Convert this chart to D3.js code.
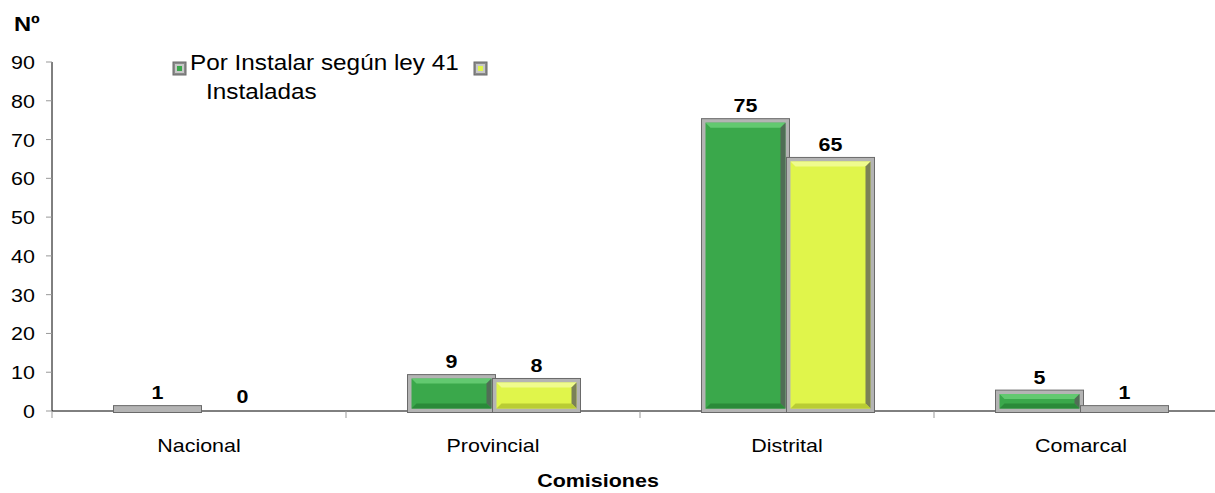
<!DOCTYPE html>
<html>
<head>
<meta charset="utf-8">
<script src="https://cdn.jsdelivr.net/npm/d3@7"></script>
<style>
  body { margin: 0; background: #fff; }
  svg { font-family: "Liberation Sans", Arial, sans-serif; }
</style>
</head>
<body>
<div id="chart"></div>
<script>
// Chart data
const categories = ['Nacional', 'Provincial', 'Distrital', 'Comarcal'];
const seriesNames = ['Por Instalar según ley 41', 'Instaladas'];
const porInstalar = [1, 9, 75, 5];
const instaladas = [0, 8, 65, 1];
const yTicks = [0, 10, 20, 30, 40, 50, 60, 70, 80, 90];

const width = 1215, height = 493;
const stretch = 1.13; // the original picture is a bit wider than tall
const colors = [
  { main: '#3aa84b', light: '#62c970', dark: '#2a8a39' },
  { main: '#e0f54b', light: '#effb8e', dark: '#b9cc34' }
];

const svg = d3.select('#chart')
  .append('svg')
  .attr('width', width)
  .attr('height', height);

// text helper, stretched horizontally like the source image
function addText(tx, ty, str, opts = {}) {
  return svg.append('text')
    .attr('transform', `translate(${tx},${ty}) scale(${stretch},1)`)
    .attr('text-anchor', opts.anchor || 'start')
    .style('font-size', (opts.size || 19) + 'px')
    .style('font-weight', opts.bold ? 'bold' : 'normal')
    .text(str);
}

const x = d3.scaleBand().domain(categories).range([52, 1228]);
const xs = d3.scaleBand().domain(seriesNames).range([63, 233]);
const y = d3.scaleLinear().domain([0, 90]).range([411, 62]);

// y axis
svg.append('line')
  .attr('x1', 52).attr('x2', 52)
  .attr('y1', y(90)).attr('y2', y(0))
  .attr('stroke', '#000');
yTicks.forEach(d => {
  svg.append('line')
    .attr('x1', 46).attr('x2', 52)
    .attr('y1', y(d)).attr('y2', y(d))
    .attr('stroke', '#999');
  addText(35, y(d) + 7, d, { anchor: 'end' });
});

// x axis
svg.append('line')
  .attr('x1', 52).attr('x2', width)
  .attr('y1', y(0)).attr('y2', y(0))
  .attr('stroke', '#000');
svg.selectAll('.xtick').data(categories).enter().append('line')
  .attr('x1', d => x(d)).attr('x2', d => x(d))
  .attr('y1', y(0)).attr('y2', y(0) + 7)
  .attr('stroke', '#999');
categories.forEach(c => addText(x(c) + x.bandwidth() / 2, 452, c, { anchor: 'middle' }));

// Beveled bar drawing
function bevelRect(g, bx, by, bw, bh, c) {
  g.append('rect')
    .attr('x', bx - 1.5).attr('y', by - 1.5)
    .attr('width', bw + 3).attr('height', bh + 3)
    .attr('fill', '#b4b4b4').attr('stroke', '#6a6a6a').attr('stroke-width', 1);
  const i = 2.5;
  const ix = bx + i, iy = by + i, iw = bw - 2 * i, ih = bh - 2 * i;
  if (iw <= 0 || ih <= 0) return;
  g.append('rect').attr('x', ix).attr('y', iy).attr('width', iw).attr('height', ih)
    .attr('fill', c.main);
  const b = Math.min(5, ih / 2, iw / 2);
  // top bevel
  g.append('polygon')
    .attr('points', [[ix, iy], [ix + iw, iy], [ix + iw - b, iy + b], [ix + b, iy + b]].join(' '))
    .attr('fill', c.light);
  // right bevel
  g.append('polygon')
    .attr('points', [[ix + iw, iy], [ix + iw, iy + ih], [ix + iw - b, iy + ih - b], [ix + iw - b, iy + b]].join(' '))
    .attr('fill', '#5a5a5a').attr('opacity', 0.75);
  // bottom bevel
  g.append('polygon')
    .attr('points', [[ix, iy + ih], [ix + iw, iy + ih], [ix + iw - b, iy + ih - b], [ix + b, iy + ih - b]].join(' '))
    .attr('fill', c.dark);
}

const data = [porInstalar, instaladas];
const bars = svg.append('g');
categories.forEach((cat, ci) => {
  seriesNames.forEach((s, si) => {
    const v = data[si][ci];
    const bx = x(cat) + xs(s);
    const bw = xs.bandwidth();
    if (v > 0) bevelRect(bars, bx, y(v), bw, y(0) - y(v), colors[si]);
    addText(bx + bw / 2, y(v) - 8, v, { anchor: 'middle', bold: true });
  });
});

// Legend
function legendIcon(lx, ly, c) {
  const g = svg.append('g');
  g.append('rect').attr('x', lx).attr('y', ly).attr('width', 13).attr('height', 13)
    .attr('fill', '#8a8a8a').attr('stroke', '#6a6a6a');
  g.append('rect').attr('x', lx + 2).attr('y', ly + 2).attr('width', 9).attr('height', 9)
    .attr('fill', '#c8c8c8');
  g.append('rect').attr('x', lx + 4).attr('y', ly + 4).attr('width', 5).attr('height', 5)
    .attr('fill', c.main);
}
legendIcon(173, 62, colors[0]);
addText(190, 70, seriesNames[0], { size: 21.5 });
legendIcon(474, 62, colors[1]);
addText(206, 99, seriesNames[1], { size: 21.5 });

// Axis titles
addText(14, 31, 'Nº', { size: 21, bold: true });
addText(598, 487, 'Comisiones', { anchor: 'middle', bold: true });
</script>
</body>
</html>
